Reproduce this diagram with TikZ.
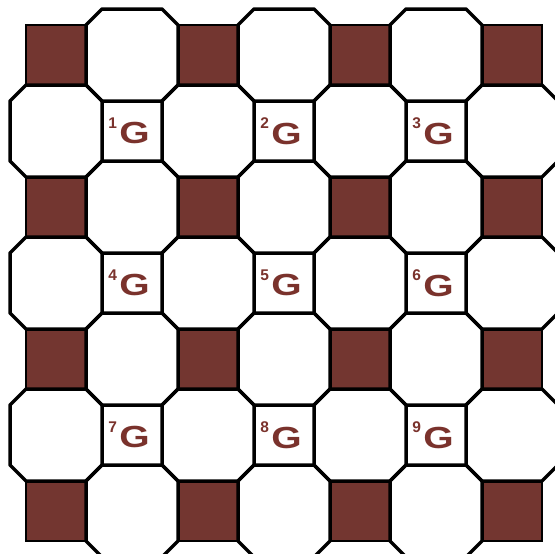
\documentclass[tikz,border=0pt]{standalone}
\usepackage{fontspec}
\setmainfont{Liberation Sans}
\usetikzlibrary{calc}
\definecolor{tile}{RGB}{115,54,48}
\definecolor{lab}{RGB}{122,50,44}
\begin{document}
\begin{tikzpicture}[x=1pt,y=-1pt,
  brownsq/.style={draw=black, line width=2.5pt, fill=tile, minimum size=60pt, inner sep=0pt},
  gsq/.style={draw=black, line width=3pt, fill=white, minimum size=60pt, inner sep=0pt,
    font=\bfseries\fontsize{30.5}{30.5}\selectfont, text=lab},
  octo/.style={draw=black, line width=3.5pt, line join=round}]
\useasboundingbox[fill=white] (0,0) rectangle (555,554);
% squares
\foreach \i in {0,2,4,6}{
  \foreach \j in {0,2,4,6}{
    \node[brownsq] (b-\i-\j) at ({56+76*\i},{55+76*\j}) {};
  }
}
\foreach \i in {1,3,5}{
  \foreach \j in {1,3,5}{
    \pgfmathtruncatemacro\n{(\j-1)/2*3+(\i+1)/2}
    \node[gsq] (g\n) at ({56+76*\i},{55+76*\j})
      {\raisebox{15.5pt}{\fontsize{15.5}{15.5}\selectfont\n}\kern2.5pt\scalebox{1.28}[1]{G}\kern6pt};
  }
}
% octagons
\foreach \i in {0,...,6}{
  \foreach \j in {0,...,6}{
    \pgfmathtruncatemacro\pty{mod(\i+\j,2)}
    \ifnum\pty=1
      \coordinate (o-\i-\j) at ({56+76*\i},{55+76*\j});
      \draw[octo] ($(o-\i-\j)+(-30,-46)$) -- ++(60,0) -- ++(16,16) -- ++(0,60)
        -- ++(-16,16) -- ++(-60,0) -- ++(-16,-16) -- ++(0,-60) -- cycle;
    \fi
  }
}
\end{tikzpicture}
\end{document}
